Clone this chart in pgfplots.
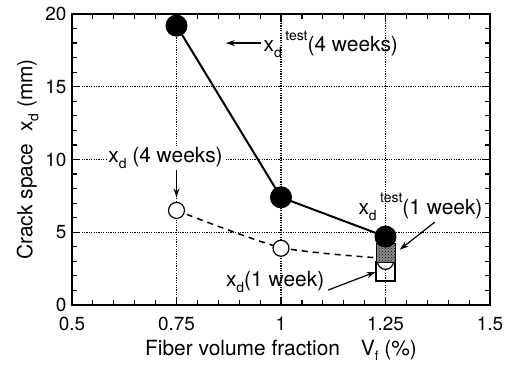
\documentclass[border=0pt]{standalone}
\usepackage{pgfplots}
\pgfplotsset{compat=1.18}
\usepackage{fontspec}
\setmainfont{TeX Gyre Heros}
\usetikzlibrary{arrows.meta,patterns}

\newcommand{\lbl}{\fontsize{21}{25}\selectfont}
\newcommand{\tcklbl}{\fontsize{19}{22}\selectfont}
% x with subscript d and an optional superscript following it
\newcommand{\xd}{x\raisebox{-0.55ex}{\fontsize{14}{14}\selectfont d}}
\newcommand{\xdtest}{\xd\,\raisebox{1.05ex}{\fontsize{14}{14}\selectfont test}}

\begin{document}
\begin{tikzpicture}
\begin{axis}[
  name=ax,
  scale only axis,
  width=418bp, height=291bp,
  xmin=0.5, xmax=1.5, ymin=0, ymax=20,
  xtick={0.5,0.75,1,1.25,1.5},
  xticklabels={0.5,0.75,1,1.25,1.5},
  ytick={0,5,10,15,20},
  yticklabels={0,5,10,15,20},
  minor x tick num=4, minor y tick num=4,
  tick align=inside,
  major tick length=8bp, minor tick length=5bp,
  every tick/.style={black, line width=1.2bp},
  axis line style={line width=1.6bp},
  grid=major,
  major grid style={black, line width=1.1bp, dash pattern=on 1.2bp off 1.2bp},
  ticklabel style={font=\tcklbl},
  xticklabel style={yshift=-9bp},
  yticklabel style={xshift=-2bp},
  /pgf/number format/assume math mode=true,
  label style={font=\lbl},
  xlabel={Fiber volume fraction\quad V\raisebox{-0.5ex}{\fontsize{13}{13}\selectfont f} (\%)},
  xlabel style={yshift=-2bp},
  ylabel={Crack space\ \ \xd\ (mm)},
  clip=false,
]
% fitted curve for x_d
\addplot[black, line width=1.5bp, dash pattern=on 6bp off 5bp, smooth, tension=0.4]
  coordinates {(0.75,6.5) (1.0,3.95) (1.25,3.2)};

% x_d, open circles
\addplot[only marks, mark=*, mark size=8bp,
  mark options={draw=black, fill=white, line width=1.2bp}]
  coordinates {(0.75,6.5) (1.0,3.9) (1.25,3.0)};

% x_d (1 week), open square
\addplot[only marks, mark=square, mark size=9.5bp,
  mark options={draw=black, line width=1.1bp}]
  coordinates {(1.25,2.3)};

% x_d^test (1 week), dotted square
\addplot[only marks, mark=square*, mark size=9.5bp,
  mark options={draw=black, line width=1bp, fill=black!45}]
  coordinates {(1.25,3.6)};
\addplot[only marks, mark=square*, mark size=9.5bp,
  mark options={draw=black, line width=1bp, pattern=crosshatch dots, pattern color=black}]
  coordinates {(1.25,3.6)};

% x_d^test (4 weeks), filled circles
\addplot[black, line width=2bp, mark=*, mark size=10bp,
  mark options={fill=black}]
  coordinates {(0.75,19.2) (1.0,7.4) (1.25,4.7)};

% annotations
\draw[-{Stealth[length=9bp,width=6bp]}, line width=1.2bp]
  (axis cs:0.952,18.0) -- (axis cs:0.868,18.0);
\node[anchor=base west, inner sep=0pt, font=\lbl] at (axis cs:0.958,17.4)
  {\xdtest(4 weeks)};

\node[anchor=base west, inner sep=1bp, fill=white, font=\lbl] at (axis cs:0.584,9.8)
  {\xd\ (4 weeks)};
\draw[-{Stealth[length=9bp,width=6bp]}, line width=1.2bp]
  (axis cs:0.75,9.3) -- (axis cs:0.75,7.4);

\node[anchor=base west, inner sep=0pt, font=\lbl] at (axis cs:1.185,6.25)
  {\xdtest(1 week)};
\draw[-{Stealth[length=9bp,width=6bp]}, line width=1.2bp]
  (axis cs:1.368,5.7) -- (axis cs:1.284,3.8);

\node[anchor=base west, inner sep=0pt, font=\lbl] at (axis cs:0.868,1.24)
  {\xd(1 week)};
\draw[-{Stealth[length=9bp,width=6bp]}, line width=1.2bp]
  (axis cs:1.113,1.03) -- (axis cs:1.226,2.27);
\end{axis}
\path ([xshift=-72bp,yshift=-63bp]ax.south west) rectangle ([xshift=27bp,yshift=14bp]ax.north east);
\end{tikzpicture}
\end{document}
